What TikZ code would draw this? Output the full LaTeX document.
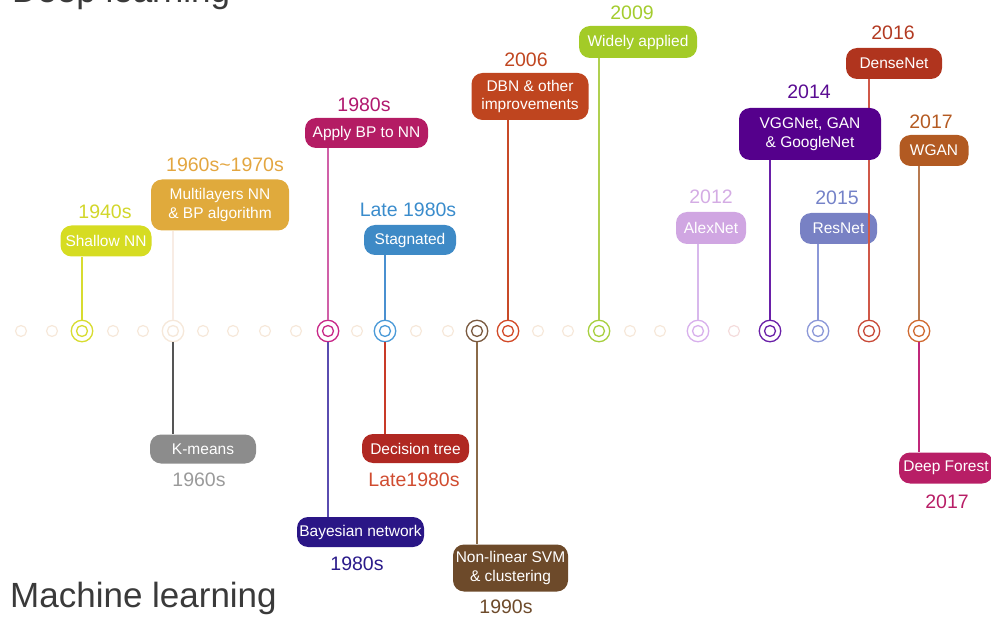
\documentclass[tikz,border=0pt]{standalone}
\usepackage{fontspec}
\setmainfont{Liberation Sans}
\newcommand\boxfont{\fontsize{15.5}{18.5}\selectfont}
\newcommand\yrfont{\fontsize{19.5}{22}\selectfont}
\newcommand\ttlfont{\fontsize{35}{40}\selectfont}
\definecolor{cA}{HTML}{D6DC22}
\definecolor{cB}{HTML}{E0AA3C}
\definecolor{cC}{HTML}{B41C64}
\definecolor{cD}{HTML}{3E8AC6}
\definecolor{cE}{HTML}{BF451F}
\definecolor{cF}{HTML}{A3CB27}
\definecolor{cG}{HTML}{D0A6E2}
\definecolor{cH}{HTML}{55008C}
\definecolor{cI}{HTML}{7881C4}
\definecolor{cJ}{HTML}{B0341E}
\definecolor{cK}{HTML}{B25A22}
\definecolor{cL}{HTML}{8C8C8C}
\definecolor{cM}{HTML}{B02822}
\definecolor{cN}{HTML}{2A1686}
\definecolor{cO}{HTML}{6D4A2A}
\definecolor{cP}{HTML}{B81E66}
\definecolor{faint}{HTML}{F6E8DA}
\definecolor{faintp}{HTML}{F4DCDC}
\definecolor{ttl}{HTML}{3A3A3A}
% circle colours
\definecolor{k1}{HTML}{D8DC30}
\definecolor{k3}{HTML}{C82888}
\definecolor{k4}{HTML}{4A9AD8}
\definecolor{k5}{HTML}{7A5A40}
\definecolor{k6}{HTML}{D24A28}
\definecolor{k7}{HTML}{A8D040}
\definecolor{k8}{HTML}{D8B0EC}
\definecolor{k9}{HTML}{6A20A8}
\definecolor{k10}{HTML}{8C98D8}
\definecolor{k11}{HTML}{C84A38}
\definecolor{k12}{HTML}{D06A30}
% stem colours
\definecolor{t2u}{HTML}{F8ECE4}
\definecolor{t2d}{HTML}{555555}
\definecolor{t3u}{HTML}{D060A8}
\definecolor{t3d}{HTML}{5A4CB0}
\definecolor{t4u}{HTML}{4A90D0}
\definecolor{t4d}{HTML}{C83A28}
\definecolor{t5d}{HTML}{8A6A48}
\definecolor{t6u}{HTML}{C84A28}
\definecolor{t7u}{HTML}{B0D050}
\definecolor{t8u}{HTML}{D8B8EC}
\definecolor{t10u}{HTML}{8C98D8}
\definecolor{t11u}{HTML}{D05848}
\definecolor{t12u}{HTML}{B87A50}
\definecolor{t12d}{HTML}{C0287A}
% year colours
\definecolor{y1c}{HTML}{D2D62A}
\definecolor{y2c}{HTML}{E3A640}
\definecolor{y3c}{HTML}{B0186E}
\definecolor{y4c}{HTML}{3A8CCC}
\definecolor{y5c}{HTML}{C04620}
\definecolor{y6c}{HTML}{A4CC2E}
\definecolor{y7c}{HTML}{D4ACE4}
\definecolor{y8c}{HTML}{5A0C92}
\definecolor{y9c}{HTML}{7482C8}
\definecolor{y10c}{HTML}{B23A22}
\definecolor{y11c}{HTML}{B45A22}
\definecolor{y12c}{HTML}{9A9A9A}
\definecolor{y13c}{HTML}{D04C30}
\definecolor{y14c}{HTML}{2A1A8A}
\definecolor{y15c}{HTML}{6D4A2A}
\definecolor{y16c}{HTML}{B81E66}
\tikzset{
  box/.style={rounded corners=11pt, fill=#1, text=white, font=\boxfont, align=center, inner sep=0pt},
  yr/.style={text=#1, font=\yrfont, inner sep=0pt},
  bigc/.style={circle, draw=#1, line width=1.3pt, minimum size=21.5pt, inner sep=0pt, fill=white,
    path picture={\draw[#1, line width=1.3pt] (path picture bounding box.center) circle (5.5pt);}},
  smallc/.style={circle, draw=#1, line width=1.2pt, minimum size=11pt, inner sep=0pt},
  stem/.style={draw=#1, line width=1.2pt},
}
\begin{document}
\begin{tikzpicture}[x=1pt,y=-1pt]
\useasboundingbox (0,0) rectangle (991,620);
% titles
\node[anchor=base west, inner sep=0pt, text=ttl, font=\ttlfont] (tdl) at (12,3) {Deep learning};
\node[anchor=base west, inner sep=0pt, text=ttl, font=\ttlfont] (tml) at (10,607) {Machine learning};
% faint small circles
\foreach \x/\n in {21/s1,52/s2,113/s3,143/s4,203/s5,233/s6,265/s7,296/s8,357/s9,416/s10,448/s11,538/s12,568/s13,630/s14,660/s15}
  \node[smallc=faint] (\n) at (\x,331) {};
\node[smallc=faintp] (s16) at (734,331) {};
% big circles
\node[bigc=k1] (c1) at (82,331) {};
\node[bigc=faint] (c2) at (173,331) {};
\node[bigc=k3] (c3) at (328,331) {};
\node[bigc=k4] (c4) at (385,331) {};
\node[bigc=k5] (c5) at (477,331) {};
\node[bigc=k6] (c6) at (508,331) {};
\node[bigc=k7] (c7) at (599,331) {};
\node[bigc=k8] (c8) at (698,331) {};
\node[bigc=k9] (c9) at (770,331) {};
\node[bigc=k10] (c10) at (818,331) {};
\node[bigc=k11] (c11) at (869,331) {};
\node[bigc=k12] (c12) at (919,331) {};
% boxes (top)
\node[box=cA, minimum width=91pt, minimum height=31pt] (b1) at (106,241) {Shallow NN};
\node[box=cB, minimum width=138pt, minimum height=51pt] (b2) at (220,205) {Multilayers NN\\\& BP algorithm};
\node[box=cC, minimum width=123pt, minimum height=30pt] (b3) at (366.5,133) {Apply BP to NN};
\node[box=cD, minimum width=92pt, minimum height=30pt] (b4) at (410,240) {Stagnated};
\node[box=cE, minimum width=117pt, minimum height=47pt] (b5) at (530,96.5) {DBN \& other\\improvements};
\node[box=cF, minimum width=118pt, minimum height=32pt] (b6) at (638,42) {Widely applied};
\node[box=cG, minimum width=70pt, minimum height=32pt] (b7) at (711,228) {AlexNet};
\node[box=cI, minimum width=77pt, minimum height=31pt] (b9) at (838.5,228.5) {ResNet};
\node[box=cJ, minimum width=96pt, minimum height=31pt] (b10) at (894,63.5) {DenseNet};
\node[box=cK, minimum width=69pt, minimum height=31pt] (b11) at (934,150.5) {WGAN};
% bottom boxes
\node[box=cL, minimum width=106pt, minimum height=29pt] (b12) at (203,449) {K-means};
\node[box=cM, minimum width=107pt, minimum height=29pt] (b13) at (415.5,448.5) {Decision tree};
\node[box=cN, minimum width=127pt, minimum height=30pt] (b14) at (360.5,532) {Bayesian network};
\node[box=cO, minimum width=115pt, minimum height=47pt] (b15) at (510.5,568) {Non-linear SVM\\\& clustering};
\node[box=cP, minimum width=94pt, minimum height=31pt] (b16) at (946,468) {Deep Forest};
% DenseNet stem (passes behind the VGGNet box)
\path[stem=t11u] (c11.north) -- (c11.north |- b10.south);
\node[box=cH, minimum width=142pt, minimum height=52pt] (b8) at (810,134) {VGGNet, GAN\\\& GoogleNet};
% stems
\path[stem=k1] (c1.north) -- (c1.north |- b1.south);
\path[stem=t2u] (c2.north) -- (c2.north |- b2.south);
\path[stem=t2d] (c2.south) -- (c2.south |- b12.north);
\path[stem=t3u] (c3.north) -- (c3.north |- b3.south);
\path[stem=t3d] (c3.south) -- (c3.south |- b14.north);
\path[stem=t4u] (c4.north) -- (c4.north |- b4.south);
\path[stem=t4d] (c4.south) -- (c4.south |- b13.north);
\path[stem=t5d] (c5.south) -- (c5.south |- b15.north);
\path[stem=t6u] (c6.north) -- (c6.north |- b5.south);
\path[stem=t7u] (c7.north) -- (c7.north |- b6.south);
\path[stem=t8u] (c8.north) -- (c8.north |- b7.south);
\path[stem=k9] (c9.north) -- (c9.north |- b8.south);
\path[stem=t10u] (c10.north) -- (c10.north |- b9.south);
\path[stem=t12u] (c12.north) -- (c12.north |- b11.south);
\path[stem=t12d] (c12.south) -- (c12.south |- b16.north);
% years
\node[yr=y1c] (y1) at (105,212) {1940s};
\node[yr=y2c] (y2) at (225,165) {1960s\char`~1970s};
\node[yr=y3c] (y3) at (364,105) {1980s};
\node[yr=y4c] (y4) at (408,210) {Late 1980s};
\node[yr=y5c] (y5) at (526,60) {2006};
\node[yr=y6c] (y6) at (632,13) {2009};
\node[yr=y7c] (y7) at (711,197) {2012};
\node[yr=y8c] (y8) at (809,92) {2014};
\node[yr=y9c] (y9) at (837,198) {2015};
\node[yr=y10c] (y10) at (893,33) {2016};
\node[yr=y11c] (y11) at (931,122) {2017};
\node[yr=y12c] (y12) at (199,480) {1960s};
\node[yr=y13c] (y13) at (414,480) {Late1980s};
\node[yr=y14c] (y14) at (357,564) {1980s};
\node[yr=y15c] (y15) at (506,607) {1990s};
\node[yr=y16c] (y16) at (947,502) {2017};
\end{tikzpicture}
\end{document}
